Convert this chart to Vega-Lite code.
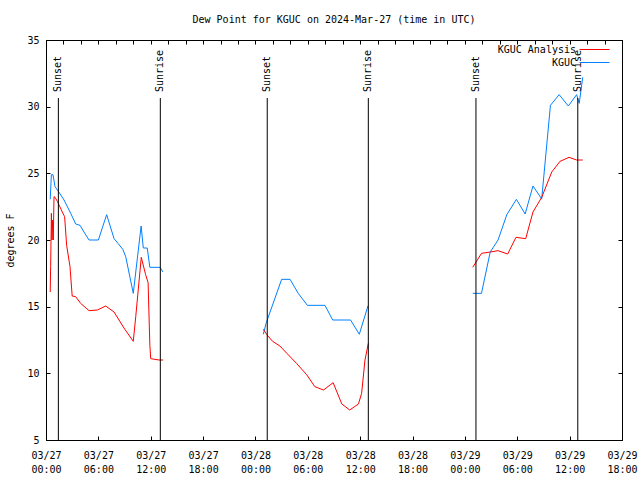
{
  "$schema": "https://vega.github.io/schema/vega-lite/v6.json",
  "width": 576,
  "height": 400,
  "autosize": "none",
  "padding": {"left": 46, "top": 40, "right": 18, "bottom": 40},
  "background": "white",
  "config": {
    "font": "DejaVu Sans Mono",
    "view": {"stroke": "black"},
    "axis": {"grid": false, "domainColor": "black", "tickColor": "black", "labelColor": "black", "titleColor": "black", "labelFontSize": 10, "titleFontSize": 10, "titleFontWeight": "normal", "labelFont": "DejaVu Sans Mono", "titleFont": "DejaVu Sans Mono"}
  },
  "title": {"text": "Dew Point for KGUC on 2024-Mar-27 (time in UTC)", "fontSize": 10, "fontWeight": "normal", "font": "DejaVu Sans Mono", "anchor": "middle", "offset": 10, "color": "black"},
  "datasets": {
    "obs": [
      {"t": "2024-03-27T00:29:00Z", "v": 23.05, "s": "KGUC", "g": 1},
      {"t": "2024-03-27T00:37:00Z", "v": 24.9, "s": "KGUC", "g": 1},
      {"t": "2024-03-27T00:48:00Z", "v": 24.9, "s": "KGUC", "g": 1},
      {"t": "2024-03-27T01:02:00Z", "v": 24.0, "s": "KGUC", "g": 1},
      {"t": "2024-03-27T01:28:00Z", "v": 23.6, "s": "KGUC", "g": 1},
      {"t": "2024-03-27T02:04:00Z", "v": 23.0, "s": "KGUC", "g": 1},
      {"t": "2024-03-27T02:50:00Z", "v": 22.0, "s": "KGUC", "g": 1},
      {"t": "2024-03-27T03:24:00Z", "v": 21.2, "s": "KGUC", "g": 1},
      {"t": "2024-03-27T03:54:00Z", "v": 21.1, "s": "KGUC", "g": 1},
      {"t": "2024-03-27T04:21:00Z", "v": 20.6, "s": "KGUC", "g": 1},
      {"t": "2024-03-27T04:56:00Z", "v": 20.0, "s": "KGUC", "g": 1},
      {"t": "2024-03-27T06:00:00Z", "v": 20.0, "s": "KGUC", "g": 1},
      {"t": "2024-03-27T06:57:00Z", "v": 21.9, "s": "KGUC", "g": 1},
      {"t": "2024-03-27T07:48:00Z", "v": 20.1, "s": "KGUC", "g": 1},
      {"t": "2024-03-27T08:15:00Z", "v": 19.75, "s": "KGUC", "g": 1},
      {"t": "2024-03-27T08:48:00Z", "v": 19.3, "s": "KGUC", "g": 1},
      {"t": "2024-03-27T09:08:00Z", "v": 18.75, "s": "KGUC", "g": 1},
      {"t": "2024-03-27T10:00:00Z", "v": 16.0, "s": "KGUC", "g": 1},
      {"t": "2024-03-27T10:54:00Z", "v": 21.05, "s": "KGUC", "g": 1},
      {"t": "2024-03-27T11:09:00Z", "v": 19.4, "s": "KGUC", "g": 1},
      {"t": "2024-03-27T11:36:00Z", "v": 19.4, "s": "KGUC", "g": 1},
      {"t": "2024-03-27T11:54:00Z", "v": 17.95, "s": "KGUC", "g": 1},
      {"t": "2024-03-27T13:04:00Z", "v": 17.95, "s": "KGUC", "g": 1},
      {"t": "2024-03-27T13:24:00Z", "v": 17.6, "s": "KGUC", "g": 1},

      {"t": "2024-03-27T00:29:00Z", "v": 16.1, "s": "KGUC Analysis", "g": 1},
      {"t": "2024-03-27T00:32:00Z", "v": 18.0, "s": "KGUC Analysis", "g": 1},
      {"t": "2024-03-27T00:37:00Z", "v": 22.0, "s": "KGUC Analysis", "g": 1},
      {"t": "2024-03-27T00:41:00Z", "v": 20.0, "s": "KGUC Analysis", "g": 1},
      {"t": "2024-03-27T00:46:00Z", "v": 21.5, "s": "KGUC Analysis", "g": 1},
      {"t": "2024-03-27T00:50:00Z", "v": 20.0, "s": "KGUC Analysis", "g": 1},
      {"t": "2024-03-27T00:55:00Z", "v": 23.25, "s": "KGUC Analysis", "g": 1},
      {"t": "2024-03-27T01:02:00Z", "v": 23.2, "s": "KGUC Analysis", "g": 1},
      {"t": "2024-03-27T01:18:00Z", "v": 22.9, "s": "KGUC Analysis", "g": 1},
      {"t": "2024-03-27T01:52:00Z", "v": 22.1, "s": "KGUC Analysis", "g": 1},
      {"t": "2024-03-27T02:08:00Z", "v": 21.75, "s": "KGUC Analysis", "g": 1},
      {"t": "2024-03-27T02:22:00Z", "v": 19.6, "s": "KGUC Analysis", "g": 1},
      {"t": "2024-03-27T02:45:00Z", "v": 18.0, "s": "KGUC Analysis", "g": 1},
      {"t": "2024-03-27T03:00:00Z", "v": 15.8, "s": "KGUC Analysis", "g": 1},
      {"t": "2024-03-27T03:24:00Z", "v": 15.75, "s": "KGUC Analysis", "g": 1},
      {"t": "2024-03-27T03:58:00Z", "v": 15.25, "s": "KGUC Analysis", "g": 1},
      {"t": "2024-03-27T04:56:00Z", "v": 14.7, "s": "KGUC Analysis", "g": 1},
      {"t": "2024-03-27T05:53:00Z", "v": 14.75, "s": "KGUC Analysis", "g": 1},
      {"t": "2024-03-27T06:50:00Z", "v": 15.05, "s": "KGUC Analysis", "g": 1},
      {"t": "2024-03-27T07:48:00Z", "v": 14.6, "s": "KGUC Analysis", "g": 1},
      {"t": "2024-03-27T08:56:00Z", "v": 13.4, "s": "KGUC Analysis", "g": 1},
      {"t": "2024-03-27T10:00:00Z", "v": 12.4, "s": "KGUC Analysis", "g": 1},
      {"t": "2024-03-27T10:17:00Z", "v": 14.25, "s": "KGUC Analysis", "g": 1},
      {"t": "2024-03-27T10:55:00Z", "v": 18.7, "s": "KGUC Analysis", "g": 1},
      {"t": "2024-03-27T11:25:00Z", "v": 17.4, "s": "KGUC Analysis", "g": 1},
      {"t": "2024-03-27T11:42:00Z", "v": 16.8, "s": "KGUC Analysis", "g": 1},
      {"t": "2024-03-27T11:54:00Z", "v": 12.1, "s": "KGUC Analysis", "g": 1},
      {"t": "2024-03-27T12:00:00Z", "v": 11.1, "s": "KGUC Analysis", "g": 1},
      {"t": "2024-03-27T12:57:00Z", "v": 11.0, "s": "KGUC Analysis", "g": 1},
      {"t": "2024-03-27T13:26:00Z", "v": 11.0, "s": "KGUC Analysis", "g": 1},

      {"t": "2024-03-28T00:54:00Z", "v": 12.93, "s": "KGUC", "g": 2},
      {"t": "2024-03-28T01:13:00Z", "v": 13.75, "s": "KGUC", "g": 2},
      {"t": "2024-03-28T03:00:00Z", "v": 17.05, "s": "KGUC", "g": 2},
      {"t": "2024-03-28T03:58:00Z", "v": 17.05, "s": "KGUC", "g": 2},
      {"t": "2024-03-28T04:54:00Z", "v": 16.0, "s": "KGUC", "g": 2},
      {"t": "2024-03-28T05:57:00Z", "v": 15.1, "s": "KGUC", "g": 2},
      {"t": "2024-03-28T07:58:00Z", "v": 15.1, "s": "KGUC", "g": 2},
      {"t": "2024-03-28T08:51:00Z", "v": 14.0, "s": "KGUC", "g": 2},
      {"t": "2024-03-28T10:54:00Z", "v": 14.0, "s": "KGUC", "g": 2},
      {"t": "2024-03-28T11:54:00Z", "v": 12.93, "s": "KGUC", "g": 2},
      {"t": "2024-03-28T12:54:00Z", "v": 15.07, "s": "KGUC", "g": 2},

      {"t": "2024-03-28T00:54:00Z", "v": 13.3, "s": "KGUC Analysis", "g": 2},
      {"t": "2024-03-28T01:18:00Z", "v": 12.9, "s": "KGUC Analysis", "g": 2},
      {"t": "2024-03-28T01:58:00Z", "v": 12.4, "s": "KGUC Analysis", "g": 2},
      {"t": "2024-03-28T02:48:00Z", "v": 12.05, "s": "KGUC Analysis", "g": 2},
      {"t": "2024-03-28T03:36:00Z", "v": 11.5, "s": "KGUC Analysis", "g": 2},
      {"t": "2024-03-28T04:42:00Z", "v": 10.75, "s": "KGUC Analysis", "g": 2},
      {"t": "2024-03-28T05:52:00Z", "v": 9.9, "s": "KGUC Analysis", "g": 2},
      {"t": "2024-03-28T06:48:00Z", "v": 9.0, "s": "KGUC Analysis", "g": 2},
      {"t": "2024-03-28T07:48:00Z", "v": 8.75, "s": "KGUC Analysis", "g": 2},
      {"t": "2024-03-28T08:54:00Z", "v": 9.3, "s": "KGUC Analysis", "g": 2},
      {"t": "2024-03-28T09:54:00Z", "v": 7.7, "s": "KGUC Analysis", "g": 2},
      {"t": "2024-03-28T10:48:00Z", "v": 7.25, "s": "KGUC Analysis", "g": 2},
      {"t": "2024-03-28T11:48:00Z", "v": 7.7, "s": "KGUC Analysis", "g": 2},
      {"t": "2024-03-28T12:10:00Z", "v": 8.5, "s": "KGUC Analysis", "g": 2},
      {"t": "2024-03-28T12:33:00Z", "v": 11.0, "s": "KGUC Analysis", "g": 2},
      {"t": "2024-03-28T12:56:00Z", "v": 12.25, "s": "KGUC Analysis", "g": 2},

      {"t": "2024-03-29T00:54:00Z", "v": 16.0, "s": "KGUC", "g": 3},
      {"t": "2024-03-29T01:54:00Z", "v": 16.0, "s": "KGUC", "g": 3},
      {"t": "2024-03-29T02:54:00Z", "v": 19.1, "s": "KGUC", "g": 3},
      {"t": "2024-03-29T03:48:00Z", "v": 20.0, "s": "KGUC", "g": 3},
      {"t": "2024-03-29T04:48:00Z", "v": 21.9, "s": "KGUC", "g": 3},
      {"t": "2024-03-29T05:54:00Z", "v": 23.05, "s": "KGUC", "g": 3},
      {"t": "2024-03-29T06:54:00Z", "v": 21.95, "s": "KGUC", "g": 3},
      {"t": "2024-03-29T07:48:00Z", "v": 24.05, "s": "KGUC", "g": 3},
      {"t": "2024-03-29T08:48:00Z", "v": 23.08, "s": "KGUC", "g": 3},
      {"t": "2024-03-29T09:48:00Z", "v": 30.1, "s": "KGUC", "g": 3},
      {"t": "2024-03-29T10:48:00Z", "v": 30.9, "s": "KGUC", "g": 3},
      {"t": "2024-03-29T11:51:00Z", "v": 30.05, "s": "KGUC", "g": 3},
      {"t": "2024-03-29T12:48:00Z", "v": 30.9, "s": "KGUC", "g": 3},
      {"t": "2024-03-29T13:06:00Z", "v": 30.25, "s": "KGUC", "g": 3},
      {"t": "2024-03-29T13:30:00Z", "v": 32.2, "s": "KGUC", "g": 3},

      {"t": "2024-03-29T00:54:00Z", "v": 17.95, "s": "KGUC Analysis", "g": 3},
      {"t": "2024-03-29T01:54:00Z", "v": 19.0, "s": "KGUC Analysis", "g": 3},
      {"t": "2024-03-29T02:54:00Z", "v": 19.1, "s": "KGUC Analysis", "g": 3},
      {"t": "2024-03-29T03:48:00Z", "v": 19.2, "s": "KGUC Analysis", "g": 3},
      {"t": "2024-03-29T04:54:00Z", "v": 18.95, "s": "KGUC Analysis", "g": 3},
      {"t": "2024-03-29T05:51:00Z", "v": 20.2, "s": "KGUC Analysis", "g": 3},
      {"t": "2024-03-29T06:58:00Z", "v": 20.1, "s": "KGUC Analysis", "g": 3},
      {"t": "2024-03-29T07:48:00Z", "v": 22.1, "s": "KGUC Analysis", "g": 3},
      {"t": "2024-03-29T08:48:00Z", "v": 23.2, "s": "KGUC Analysis", "g": 3},
      {"t": "2024-03-29T09:57:00Z", "v": 25.1, "s": "KGUC Analysis", "g": 3},
      {"t": "2024-03-29T10:54:00Z", "v": 25.9, "s": "KGUC Analysis", "g": 3},
      {"t": "2024-03-29T11:56:00Z", "v": 26.2, "s": "KGUC Analysis", "g": 3},
      {"t": "2024-03-29T12:48:00Z", "v": 26.0, "s": "KGUC Analysis", "g": 3},
      {"t": "2024-03-29T13:30:00Z", "v": 26.0, "s": "KGUC Analysis", "g": 3}
    ],
    "sun": [
      {"t": "2024-03-27T01:25:00Z", "label": "Sunset"},
      {"t": "2024-03-27T13:06:00Z", "label": "Sunrise"},
      {"t": "2024-03-28T01:21:00Z", "label": "Sunset"},
      {"t": "2024-03-28T12:56:00Z", "label": "Sunrise"},
      {"t": "2024-03-29T01:16:00Z", "label": "Sunset"},
      {"t": "2024-03-29T12:56:00Z", "label": "Sunrise"}
    ]
  },
  "layer": [
    {
      "data": {"name": "obs"},
      "mark": {"type": "line", "strokeWidth": 1},
      "encoding": {
        "x": {
          "field": "t", "type": "temporal",
          "scale": {"type": "utc", "domain": [{"year": 2024, "month": 3, "date": 27, "hours": 0, "utc": true}, {"year": 2024, "month": 3, "date": 29, "hours": 18, "utc": true}]},
          "axis": {"orient": "bottom", "title": null, "tickCount": 11, "labelExpr": "[utcFormat(datum.value, '%m/%d'), utcFormat(datum.value, '%H:%M')]", "labelLineHeight": 14, "labelAngle": 0, "labelAlign": "center", "labelBaseline": "top", "labelPadding": 14, "tickSize": -4, "labelFlush": false, "labelOverlap": false}
        },
        "y": {
          "field": "v", "type": "quantitative",
          "scale": {"domain": [5, 35], "nice": false, "zero": false},
          "axis": {"orient": "left", "title": "degrees F", "values": [5, 10, 15, 20, 25, 30, 35], "tickSize": -4, "labelPadding": 11, "titlePadding": 11}
        },
        "color": {
          "field": "s", "type": "nominal",
          "scale": {"domain": ["KGUC Analysis", "KGUC"], "range": ["#ff0000", "#0080ff"]},
          "legend": {"title": null, "orient": "none", "legendX": 543, "legendY": 4, "padding": 0, "symbolType": "M-3,0H3", "symbolSize": 100, "symbolStrokeWidth": 1, "labelAlign": "right", "labelOffset": -24, "labelFontSize": 10, "labelColor": "black", "rowPadding": 2}
        },
        "detail": {"field": "g", "type": "nominal"}
      }
    },
    {
      "data": {"name": "sun"},
      "mark": {"type": "rule", "color": "black", "strokeWidth": 1},
      "encoding": {
        "x": {"field": "t", "type": "temporal", "axis": {"orient": "top", "title": null, "labels": false, "tickSize": -4, "values": [1711497600000, 1711504800000, 1711512000000, 1711519200000, 1711526400000, 1711533600000, 1711540800000, 1711548000000, 1711555200000, 1711562400000, 1711569600000, 1711576800000, 1711584000000, 1711591200000, 1711598400000, 1711605600000, 1711612800000, 1711620000000, 1711627200000, 1711634400000, 1711641600000, 1711648800000, 1711656000000, 1711663200000, 1711670400000, 1711677600000, 1711684800000, 1711692000000, 1711699200000, 1711706400000, 1711713600000, 1711720800000, 1711728000000, 1711735200000]}},
        "y": {"datum": 5, "type": "quantitative", "axis": {"orient": "right", "title": null, "labels": false, "tickSize": -4, "values": [5, 10, 15, 20, 25, 30, 35]}},
        "y2": {"datum": 30.65}
      }
    },
    {
      "data": {"name": "sun"},
      "mark": {"type": "text", "angle": 270, "align": "left", "baseline": "middle", "fontSize": 10, "color": "black"},
      "encoding": {
        "x": {"field": "t", "type": "temporal", "axis": null},
        "y": {"datum": 31.1, "type": "quantitative", "axis": null},
        "text": {"field": "label"}
      }
    }
  ],
  "resolve": {"axis": {"x": "independent", "y": "independent"}}
}
